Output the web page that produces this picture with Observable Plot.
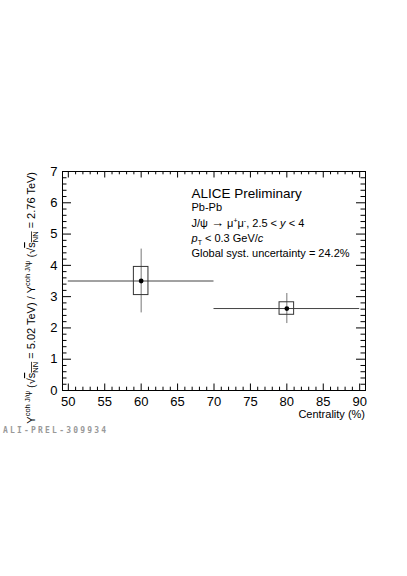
<!DOCTYPE html>
<html><head><meta charset="utf-8">
<script src="https://cdn.jsdelivr.net/npm/d3@7"></script>
<script src="https://cdn.jsdelivr.net/npm/@observablehq/plot@0.6"></script>
<style>
html,body{margin:0;padding:0;background:#fff;}
svg text{font-family:"Liberation Sans",Arial,sans-serif;}
</style>
</head><body><div id="chart"></div>
<script>
// ---- data ----
const centrality = [60, 80];
const binLow = [50, 70];
const binHigh = [70, 90];
const ratio = [3.5, 2.62];
const statErr = [1.02, 0.48];
const systErr = [0.45, 0.2];
const systHalfWidth = [1, 1];
const xTicks = [50, 55, 60, 65, 70, 75, 80, 85, 90];
const yTicks = [0, 1, 2, 3, 4, 5, 6, 7];
const xMinor = d3.range(50, 91, 1).filter(v => v % 5 !== 0);
const yMinor = d3.range(1, 35).filter(i => i % 5 !== 0).map(i => i / 5);

const table = centrality.map((c, i) => ({
  c, lo: binLow[i], hi: binHigh[i], r: ratio[i],
  s1: ratio[i] - statErr[i], s2: ratio[i] + statErr[i],
  y1: ratio[i] - systErr[i], y2: ratio[i] + systErr[i],
  x1: c - systHalfWidth[i], x2: c + systHalfWidth[i]
}));

const W = 407, H = 576, mL = 62, mR = 42, mT = 171, mB = 186;
const pH = H - mT - mB, pW = W - mL - mR;
const xMaj = 6.5, xMin = 3.3, yMaj = 9, yMin = 4.5;

const chart = Plot.plot({
  width: W, height: H,
  marginLeft: mL, marginRight: mR, marginTop: mT, marginBottom: mB,
  style: {fontFamily: '"Liberation Sans",Arial,sans-serif', fontSize: "13px", background: "white", color: "black"},
  x: {domain: [49.2, 90.8]},
  y: {domain: [0, 7]},
  marks: [
    Plot.axisX(xTicks, {tickSize: 0, tickPadding: 6, label: null, fontSize: 13}),
    Plot.axisY(yTicks, {tickSize: 0, tickPadding: 5, label: null, fontSize: 13}),
    // inside ticks, bottom & top
    Plot.ruleX(xTicks, {insetTop: pH - xMaj, stroke: "black"}),
    Plot.ruleX(xTicks, {insetBottom: pH - xMaj, stroke: "black"}),
    Plot.ruleX(xMinor, {insetTop: pH - xMin, stroke: "black"}),
    Plot.ruleX(xMinor, {insetBottom: pH - xMin, stroke: "black"}),
    // inside ticks, left & right
    Plot.ruleY(yTicks, {insetRight: pW - yMaj, stroke: "black"}),
    Plot.ruleY(yTicks, {insetLeft: pW - yMaj, stroke: "black"}),
    Plot.ruleY(yMinor, {insetRight: pW - yMin, stroke: "black"}),
    Plot.ruleY(yMinor, {insetLeft: pW - yMin, stroke: "black"}),
    Plot.frame({stroke: "black"}),
    // data
    Plot.ruleY(table, {y: "r", x1: "lo", x2: "hi", stroke: "#444"}),
    Plot.ruleX(table, {x: "c", y1: "s1", y2: "s2", stroke: "#777"}),
    Plot.rect(table, {x1: "x1", x2: "x2", y1: "y1", y2: "y2", fill: "none", stroke: "#333"}),
    Plot.dot(table, {x: "c", y: "r", r: 2.4, fill: "black", stroke: "none"})
  ]
});
document.getElementById("chart").appendChild(chart);

// ---- annotations ----
const svg = d3.select(chart);
function rich(x, y, size, parts, opts = {}) {
  const t = svg.append("text").attr("x", x).attr("y", y)
    .attr("font-size", size).attr("fill", opts.fill || "black")
    .attr("text-anchor", opts.anchor || "start");
  if (opts.transform) t.attr("transform", opts.transform);
  for (const p of parts) {
    if (typeof p === "string") { t.append("tspan").text(p); continue; }
    const s = t.append("tspan").text(p.t);
    if (p.dy) s.attr("dy", p.dy);
    if (p.size) s.attr("font-size", p.size);
    if (p.italic) s.attr("font-style", "italic");
    if (p.bold) s.attr("font-weight", "bold");
    if (p.deco) s.style("text-decoration", p.deco);
  }
  return t;
}
const ax = 191.5;
rich(ax, 198, 13.5, ["ALICE Preliminary"]);
rich(ax, 210.5, 11, ["Pb-Pb"]);
rich(ax, 226.5, 11, ["J/ψ ", {t: "→", size: 13}, {t: " μ", size: 11}, {t: "+", dy: -4, size: 7}, {t: "μ", dy: 4}, {t: "-", dy: -4, size: 7}, {t: ", 2.5 < ", dy: 4}, {t: "y", italic: true}, " < 4"]);
rich(ax, 242, 11, [{t: "p", italic: true}, {t: "T", dy: 3, size: 7}, {t: " < 0.3 GeV/", dy: -3}, {t: "c", italic: true}]);
rich(ax, 257, 11, ["Global syst. uncertainty = 24.2%"]);

rich(365, 418, 11, ["Centrality (%)"], {anchor: "end"});

// y-axis title (rotated)
rich(0, 0, 11, [
  "Y", {t: "coh J/ψ", dy: -5, size: 7.5},
  {t: " (√", dy: 5}, {t: "s", deco: "overline"}, {t: "NN", dy: 3, size: 7.5, deco: "overline"},
  {t: " = 5.02 TeV) / Y", dy: -3}, {t: "coh J/ψ", dy: -5, size: 7.5},
  {t: " (√", dy: 5}, {t: "s", deco: "overline"}, {t: "NN", dy: 3, size: 7.5, deco: "overline"},
  {t: " = 2.76 TeV)", dy: -3}
], {anchor: "end", transform: "translate(35,172) rotate(-90)"});

rich(3, 433, 8, ["ALI-PREL-309934"], {fill: "#999"})
  .style("font-family", '"DejaVu Sans Mono",monospace').attr("letter-spacing", 2.2).attr("font-weight", "bold");
</script>
</body></html>
